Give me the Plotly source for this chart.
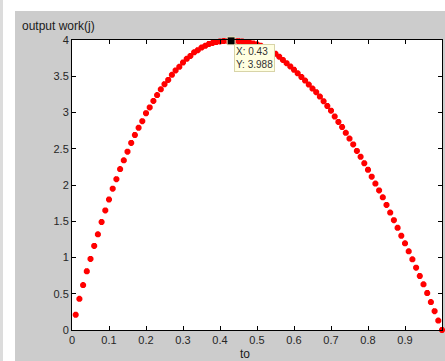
import plotly.graph_objects as go

# data (tau_o vs output work)
tau = [round(0.01 * i, 2) for i in range(1, 101)]
work = [
    0.21, 0.43, 0.62, 0.81, 0.98, 1.16, 1.32, 1.49, 1.65, 1.80,
    1.95, 2.08, 2.22, 2.34, 2.46, 2.58, 2.69, 2.79, 2.88, 2.99,
    3.07, 3.16, 3.24, 3.32, 3.39, 3.45, 3.52, 3.58, 3.63, 3.69,
    3.74, 3.78, 3.83, 3.86, 3.895, 3.92, 3.945, 3.96, 3.972, 3.98,
    3.985, 3.987, 3.988, 3.987, 3.984, 3.979, 3.972, 3.963, 3.952, 3.94,
    3.922, 3.90, 3.875, 3.845, 3.81, 3.77, 3.725, 3.68, 3.635, 3.59,
    3.54, 3.49, 3.44, 3.385, 3.33, 3.28, 3.22, 3.155, 3.09, 3.025,
    2.945, 2.87, 2.80, 2.72, 2.64, 2.56, 2.47, 2.39, 2.30, 2.21,
    2.115, 2.02, 1.925, 1.83, 1.725, 1.62, 1.515, 1.41, 1.30, 1.195,
    1.085, 0.975, 0.86, 0.745, 0.63, 0.51, 0.385, 0.26, 0.13, 0.0,
]
tip_x = [0.43]
tip_y = [3.988]
x_ticks = [0, 0.1, 0.2, 0.3, 0.4, 0.5, 0.6, 0.7, 0.8, 0.9, 1]
x_tick_text = ["0", "0.1", "0.2", "0.3", "0.4", "0.5", "0.6", "0.7", "0.8", "0.9", "1"]
y_ticks = [0, 0.5, 1, 1.5, 2, 2.5, 3, 3.5, 4]
y_tick_text = ["0", "0.5", "1", "1.5", "2", "2.5", "3", "3.5", "4"]

FONT = "Liberation Sans, Arial, sans-serif"

fig = go.Figure()
fig.add_trace(go.Scatter(
    x=tau, y=work, mode="markers",
    marker=dict(symbol="asterisk-open", size=5, color="red",
                line=dict(color="red", width=2.2)),
    cliponaxis=False, showlegend=False, hoverinfo="skip",
))
fig.add_trace(go.Scatter(
    x=tip_x, y=tip_y, mode="markers",
    marker=dict(symbol="square", size=8, color="black",
                line=dict(color="#f3f0c8", width=1)),
    cliponaxis=False, showlegend=False, hoverinfo="skip",
))

axis_common = dict(
    showline=True, linecolor="black", linewidth=1, mirror="ticks",
    ticks="inside", ticklen=4, tickcolor="black", tickwidth=1,
    showgrid=False, zeroline=False,
    tickfont=dict(family=FONT, size=11, color="#262626"),
)

# helpers to convert pixel positions of the decorations to paper units
def px_x(p):
    return (p - 72) / 370

def px_y(p):
    return (330 - p) / 290

fig.update_layout(
    width=445, height=361, autosize=False,
    margin=dict(l=72, r=3, t=40, b=31, pad=0),
    paper_bgcolor="#cccccc", plot_bgcolor="white",
    xaxis=dict(range=[0, 1], tickvals=x_ticks, ticktext=x_tick_text, **axis_common),
    yaxis=dict(range=[0, 4], tickvals=y_ticks, ticktext=y_tick_text, **axis_common),
    shapes=[
        dict(type="rect", xref="paper", yref="paper",
             x0=px_x(0), x1=px_x(3), y0=px_y(370), y1=px_y(-10),
             fillcolor="#dcdcdc", line=dict(width=0), layer="below"),
        dict(type="rect", xref="paper", yref="paper",
             x0=px_x(3), x1=px_x(15), y0=px_y(370), y1=px_y(-10),
             fillcolor="white", line=dict(width=0), layer="below"),
        dict(type="rect", xref="paper", yref="paper",
             x0=px_x(3), x1=px_x(460), y0=px_y(11), y1=px_y(-10),
             fillcolor="white", line=dict(width=0), layer="below"),
    ],
    annotations=[
        dict(text="output work(j)", xref="paper", yref="paper",
             x=px_x(20), y=px_y(26), xanchor="left", yanchor="middle",
             showarrow=False,
             font=dict(family=FONT, size=12, color="#1a1a1a")),
        dict(text="to", xref="paper", yref="paper",
             x=px_x(245), y=px_y(345), xanchor="center", yanchor="top",
             showarrow=False,
             font=dict(family=FONT, size=12, color="#1a1a1a")),
        dict(text="X: 0.43<br>Y: 3.988", xref="x", yref="y",
             x=(234 - 72) / 370, y=(330 - 44) / 72.5, xanchor="left", yanchor="top",
             align="left", showarrow=False,
             bgcolor="#ffffe1", bordercolor="#d8d4a8", borderwidth=1, borderpad=1,
             font=dict(family=FONT, size=10, color="#333333")),
    ],
)

fig.write_html(
    "out.html",
    config={"displayModeBar": False},
    post_script="document.body.style.margin='0';document.body.style.overflow='hidden';",
)
